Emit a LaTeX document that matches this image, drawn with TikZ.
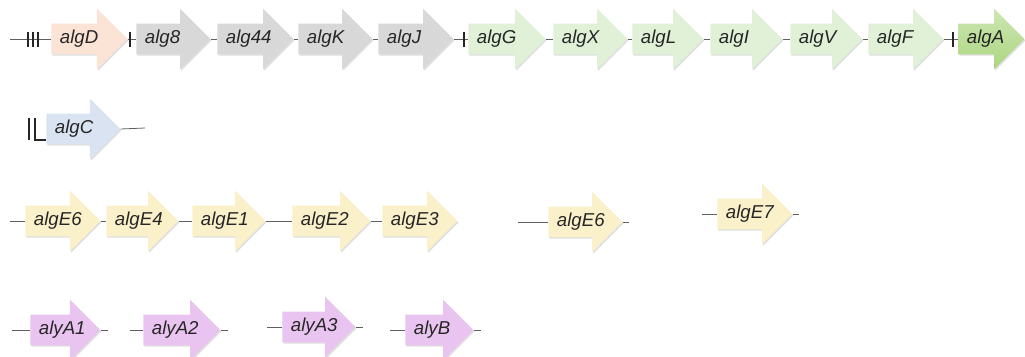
\documentclass[tikz,border=0pt]{standalone}
\usepackage{fontspec}
\setmainfont{Liberation Sans}
\usetikzlibrary{shapes.arrows, shadows, positioning}

\definecolor{peach}{RGB}{251,228,213}
\definecolor{greyfill}{RGB}{216,216,216}
\definecolor{mint}{RGB}{224,241,216}
\definecolor{leaf}{RGB}{172,214,128}
\definecolor{skyfill}{RGB}{218,227,242}
\definecolor{cream}{RGB}{250,241,202}
\definecolor{lilac}{RGB}{234,196,240}
\definecolor{strand}{RGB}{95,95,95}

\tikzset{
  genelabel/.style={anchor=west, xshift=6.5pt, inner sep=0pt,
    text height=10pt, text depth=3pt,
    font=\fontsize{14}{16}\selectfont\itshape, text=black!85},
  gene/.style={single arrow, anchor=tail, inner xsep=0pt, inner ysep=5.25pt,
    text height=9pt, text depth=3pt, minimum width=45pt,
    single arrow head extend=11.25pt, single arrow head indent=0pt,
    drop shadow={shadow xshift=0.8pt, shadow yshift=-1.1pt, opacity=0.25},
    label={[genelabel]180:#1}},
  strandline/.style={draw=strand, line width=0.6pt},
  tickmark/.style={draw=black!85, line width=0.8pt}
}

\begin{document}
\begin{tikzpicture}[x=0.75pt, y=-0.75pt]

    \useasboundingbox (0,0) rectangle (1025,357);

    % ---- ligne 1 : operon alg ----
    \node[gene=algD, fill=peach, minimum height=57pt] (algD) at (51,39) {};
    \node[gene=alg8, fill=greyfill, minimum height=55.5pt] (alg8) at (136,39) {};
    \node[gene=alg44, fill=greyfill, minimum height=57pt] (alg44) at (217,39) {};
    \node[gene=algK, fill=greyfill, minimum height=55.5pt] (algK) at (298,39) {};
    \node[gene=algJ, fill=greyfill, minimum height=56.25pt] (algJ) at (378,39) {};
    \node[gene=algG, fill=mint, minimum height=57.75pt] (algG) at (468,39) {};
    \node[gene=algX, fill=mint, minimum height=55.5pt] (algX) at (553,39) {};
    \node[gene=algL, fill=mint, minimum height=53.25pt] (algL) at (632,39) {};
    \node[gene=algI, fill=mint, minimum height=54pt] (algI) at (710,39) {};
    \node[gene=algV, fill=mint, minimum height=54pt] (algV) at (790,39) {};
    \node[gene=algF, fill=mint, minimum height=56.25pt] (algF) at (868,39) {};
    \node[gene=algA, top color=leaf!60, bottom color=leaf, minimum height=49.5pt] (algA) at (958,39) {};

    \coordinate (startD) at (10,39);
    \draw[strandline] (startD) -- (algD.tail);
    \foreach \a/\b in {algD/alg8, alg8/alg44, alg44/algK, algK/algJ, algJ/algG,
                       algG/algX, algX/algL, algL/algI, algI/algV, algV/algF, algF/algA}
        \draw[strandline] (\a.tip) -- (\b.tail);
    \foreach \t in {28,33,38}
        \draw[tickmark] (\t,32) -- (\t,47);
    \draw[tickmark] (130,32) -- (130,47);
    \draw[tickmark] (464,32) -- (464,47);
    \draw[tickmark] (953,32) -- (953,47);

    % ---- ligne 2 : algC ----
    \node[gene=algC, fill=skyfill, minimum height=55.5pt] (algC) at (46,129) {};
    \coordinate (endC) at (145,128);
    \draw[strandline] (algC.tip) -- (endC);
    \draw[tickmark] (29,118) -- (29,140);
    \draw[tickmark] (35,118) -- (35,140) -- (46,140);

    % ---- ligne 3 : algE ----
    \node[gene=algE6, fill=cream, minimum height=56.25pt] (algE6) at (25,221) {};
    \node[gene=algE4, fill=cream, minimum height=54pt] (algE4) at (106,221) {};
    \node[gene=algE1, fill=cream, minimum height=54.75pt] (algE1) at (192,221) {};
    \node[gene=algE2, fill=cream, minimum height=58.5pt] (algE2) at (292,221) {};
    \node[gene=algE3, fill=cream, minimum height=56.25pt] (algE3) at (382,221) {};
    \coordinate (startE) at (10,221);
    \draw[strandline] (startE) -- (algE6.tail);
    \foreach \a/\b in {algE6/algE4, algE4/algE1, algE1/algE2, algE2/algE3}
        \draw[strandline] (\a.tip) -- (\b.tail);

    \node[gene=algE6, fill=cream, minimum height=55.5pt] (algE6b) at (548,222) {};
    \draw[strandline] (518,222) -- (algE6b.tail);
    \draw[strandline] (algE6b.tip) -- ++(6,0);

    \node[gene=algE7, fill=cream, minimum height=56.25pt] (algE7) at (717,214) {};
    \draw[strandline] (702,214) -- (algE7.tail);
    \draw[strandline] (algE7.tip) -- ++(6,0);

    % ---- ligne 4 : aly ----
    \node[gene=alyA1, fill=lilac, minimum height=52.5pt] (alyA1) at (30,330) {};
    \node[gene=alyA2, fill=lilac, minimum height=57.75pt] (alyA2) at (143,330) {};
    \node[gene=alyA3, fill=lilac, minimum height=54.75pt] (alyA3) at (282,327) {};
    \node[gene=alyB, fill=lilac, minimum height=51pt] (alyB) at (405,330) {};
    \foreach \g/\s in {alyA1/18, alyA2/13, alyA3/15, alyB/15}{
        \draw[strandline] (\g.tail) -- ++(-\s,0);
        \draw[strandline] (\g.tip) -- ++(7,0);
    }

\end{tikzpicture}
\end{document}
